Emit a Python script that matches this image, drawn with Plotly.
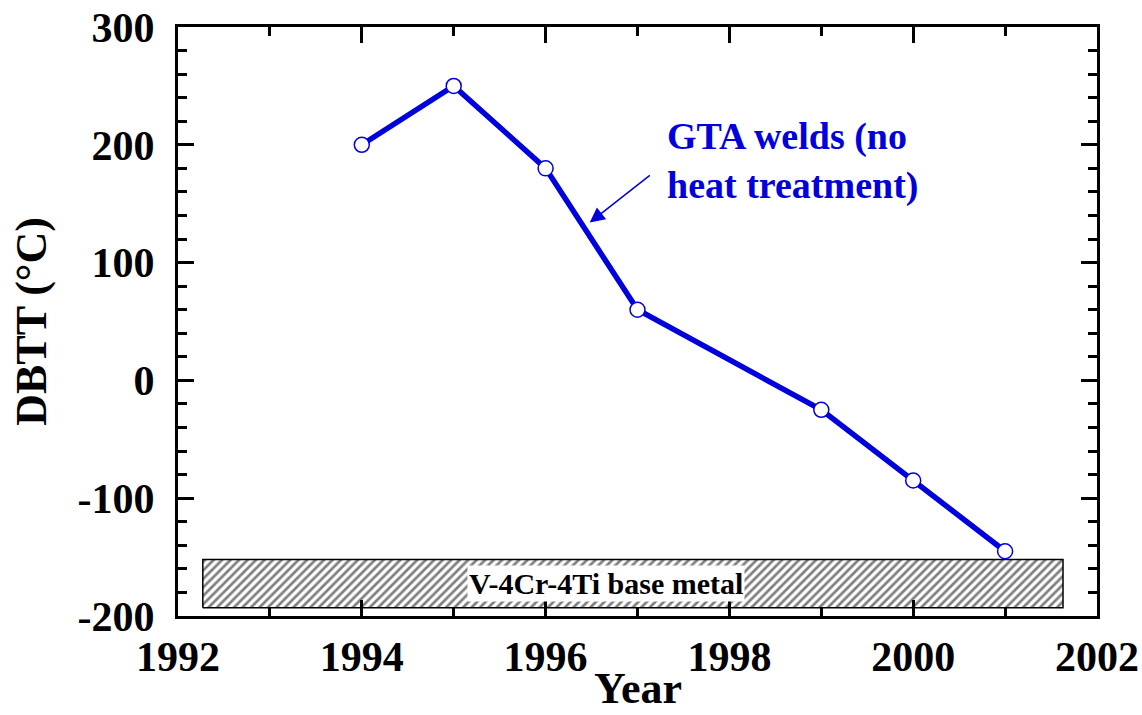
import plotly.graph_objects as go

# DBTT of GTA welds by year
years = [1994, 1995, 1996, 1997, 1999, 2000, 2001]
dbtt = [200, 250, 180, 60, -25, -85, -145]

# Axis tick labels (plain hyphen for negatives)
x_ticks = [1992, 1994, 1996, 1998, 2000, 2002]
y_ticks = [-200, -100, 0, 100, 200, 300]
y_tick_text = ["-200", "-100", "0", "100", "200", "300"]

# Base-metal band (x range in years, y range in degrees C)
band_x = [1992.27, 2001.63]
band_y = [-193, -152]

blue = "#0000dd"
font_family = "Liberation Serif"

fig = go.Figure()

fig.add_trace(go.Scatter(
    x=[band_x[0], band_x[1], band_x[1], band_x[0], band_x[0]],
    y=[band_y[0], band_y[0], band_y[1], band_y[1], band_y[0]],
    mode="lines",
    fill="toself",
    fillcolor="white",
    fillpattern=dict(shape="/", fgcolor="black", bgcolor="white", size=6, solidity=0.45),
    line=dict(color="black", width=1.5),
    hoverinfo="skip",
    showlegend=False,
))

fig.add_trace(go.Scatter(
    x=years, y=dbtt,
    mode="lines+markers",
    line=dict(color=blue, width=5.5),
    marker=dict(size=15, color="white", line=dict(color=blue, width=1.5)),
    showlegend=False,
))

fig.add_annotation(
    x=(band_x[0] + band_x[1]) / 2 - 0.29, y=(band_y[0] + band_y[1]) / 2,
    text="<b>V-4Cr-4Ti base metal</b>",
    showarrow=False,
    bgcolor="white",
    borderpad=1,
    font=dict(family=font_family, size=30, color="black"),
)

fig.add_annotation(
    x=1996.48, y=134,
    ax=1997.15, ay=175,
    xref="x", yref="y", axref="x", ayref="y",
    text="",
    showarrow=True,
    arrowhead=2, arrowsize=2, arrowwidth=1.5, arrowcolor=blue,
)

fig.add_annotation(
    x=1997.3, y=186,
    xanchor="left", yanchor="middle",
    text="<b>GTA welds (no<br>heat treatment)</b>",
    align="left",
    showarrow=False,
    font=dict(family=font_family, size=38, color=blue),
)

# x-axis title at the bottom of the figure
fig.add_annotation(
    x=0.5, y=0, xref="paper", yref="paper",
    xanchor="center", yanchor="bottom", yshift=-98,
    text="<b>Year</b>",
    showarrow=False,
    borderpad=0,
    font=dict(family=font_family, size=44, color="black"),
)

axis_common = dict(
    showline=True, linecolor="black", linewidth=3, mirror="allticks",
    ticks="inside", ticklen=16, tickwidth=3, tickcolor="black",
    showgrid=False, zeroline=False, automargin=False,
    tickfont=dict(family=font_family, size=42, color="black", weight="bold"),
)

fig.update_xaxes(
    range=[1992, 2002],
    tickvals=x_ticks, ticktext=[str(v) for v in x_ticks],
    minor=dict(dtick=1, tick0=1992, ticks="inside", ticklen=9, tickwidth=3, tickcolor="black"),
    ticklabelstandoff=2,
    **axis_common,
)
fig.update_yaxes(
    range=[-200, 300],
    tickvals=y_ticks, ticktext=y_tick_text,
    minor=dict(dtick=20, tick0=0, ticks="inside", ticklen=9, tickwidth=3, tickcolor="black"),
    title=dict(text="<b>DBTT (°C)</b>", font=dict(family=font_family, size=44, color="black"), standoff=18),
    ticklabelstandoff=12,
    **axis_common,
)

fig.update_layout(
    width=1142, height=715,
    margin=dict(l=178, r=45, t=27, b=99),
    plot_bgcolor="white", paper_bgcolor="white",
    font=dict(family=font_family),
)

fig.write_html("out.html")
